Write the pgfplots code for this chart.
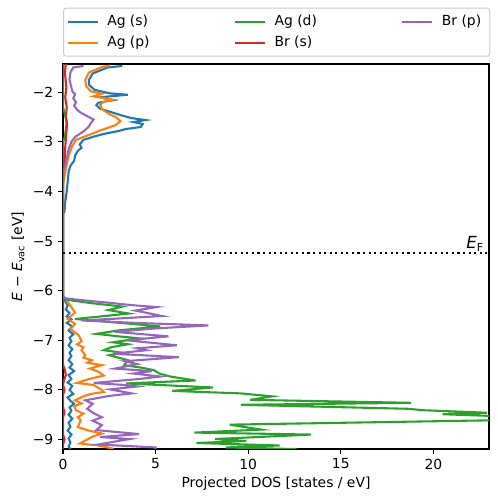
\documentclass[border=0pt]{standalone}
\usepackage{fontspec}
\setmainfont{DejaVu Sans}
\usepackage{pgfplots}
\pgfplotsset{compat=1.18}
\usetikzlibrary{calc}
\definecolor{tabblue}{HTML}{1F77B4}
\definecolor{taborange}{HTML}{FF7F0E}
\definecolor{tabgreen}{HTML}{2CA02C}
\definecolor{tabred}{HTML}{D62728}
\definecolor{tabpurple}{HTML}{9467BD}
\begin{document}
\fontsize{10}{12}\selectfont
\begin{tikzpicture}
\begin{axis}[
  scale only axis,
  width=306.7pt, height=277.2pt,
  xmin=0, xmax=23, ymin=-9.19, ymax=-1.43,
  xtick={0,5,10,15,20}, xticklabels={0,5,10,15,20},
  ytick={-9,-8,-7,-6,-5,-4,-3,-2},
  yticklabels={−9,−8,−7,−6,−5,−4,−3,−2},
  xtick pos=bottom, ytick pos=left,
  tick align=outside,
  major tick length=3.5pt,
  every tick/.style={black, line width=0.8pt},
  axis line style={line width=0.8pt},
  ticklabel style={font=\fontsize{10}{12}\selectfont},
  xlabel={Projected DOS [states / eV]},
  ylabel={\textit{E} − \textit{E}\textsubscript{vac} [eV]},
  label style={font=\fontsize{10}{12}\selectfont},
  xlabel style={at={(axis description cs:0.5,-0.0909)}, anchor=center},
  ylabel style={at={(axis description cs:-0.1056,0.5)}, anchor=center},
  legend columns=3,
  legend image code/.code={\draw[#1, line width=1.5pt, line cap=rect] (0pt,0pt) -- (20pt,0pt);},
  legend style={at={(axis description cs:0,1)}, anchor=south west, yshift=5.3pt,
    draw=black!20, line width=0.7pt, rounded corners=2pt,
    inner xsep=3pt, inner ysep=2.2pt,
    font=\fontsize{10}{12}\selectfont,
    nodes={inner xsep=0pt, inner ysep=2.55pt, text height=7.5pt, text depth=2.5pt},
    /tikz/every odd column/.append style={column sep=7pt},
    /tikz/every even column/.append style={column sep=12pt},
    legend cell align=left},
  clip=true,
]
\addlegendimage{tabblue}\addlegendentry{\makebox[80pt][l]{Ag (s)}}
\addlegendimage{tabgreen}\addlegendentry{\makebox[80pt][l]{Ag (d)}}
\addlegendimage{tabpurple}\addlegendentry{\makebox[31.5pt][l]{Br (p)}}
\addlegendimage{taborange}\addlegendentry{\makebox[80pt][l]{Ag (p)}}
\addlegendimage{tabred}\addlegendentry{\makebox[80pt][l]{Br (s)}}

% Ag (s)
\addplot[tabblue, line width=1.5pt, forget plot] coordinates {
(3.2,-1.47)(2.4,-1.50)(1.6,-1.62)(1.4,-1.75)(1.4,-1.85)(1.7,-1.95)(2.5,-2.02)(3.5,-2.05)(2.0,-2.10)(2.7,-2.16)(1.9,-2.21)(1.8,-2.26)(2.0,-2.33)(2.6,-2.40)(3.2,-2.47)(3.7,-2.52)(4.45,-2.56)(3.8,-2.60)(4.3,-2.64)(4.2,-2.70)(3.4,-2.74)(3.0,-2.78)(2.2,-2.84)(1.6,-2.90)(1.1,-2.96)(0.9,-3.05)(1.0,-3.12)(0.8,-3.18)(0.65,-3.28)(0.6,-3.38)(0.4,-3.48)(0.3,-3.6)(0.25,-3.8)(0.2,-4.0)(0.12,-4.2)(0.08,-4.4)(0,-4.45)(0,-6.15)
(0.1,-6.2)(0.25,-6.3)(0.15,-6.38)(0.35,-6.45)(0.2,-6.52)(0.45,-6.58)(0.2,-6.65)(0.5,-6.72)(0.3,-6.8)(0.55,-6.88)(0.35,-6.95)(0.45,-7.02)(0.3,-7.1)(0.5,-7.18)(0.35,-7.25)(0.45,-7.32)(0.3,-7.4)(0.5,-7.48)(0.35,-7.55)(0.6,-7.62)(0.3,-7.7)(0.45,-7.78)(0.25,-7.85)(0.5,-7.92)(0.35,-8.0)(0.55,-8.08)(0.25,-8.15)(0.4,-8.22)(0.6,-8.28)(0.35,-8.35)(0.45,-8.42)(0.3,-8.5)(0.5,-8.58)(0.3,-8.66)(0.4,-8.74)(0.25,-8.82)(0.45,-8.9)(0.3,-8.98)(0.4,-9.06)(0.3,-9.14)(0.45,-9.22)
};
% Ag (p)
\addplot[taborange, line width=1.5pt, forget plot] coordinates {
(2.55,-1.46)(2.1,-1.49)(1.4,-1.60)(1.2,-1.75)(1.25,-1.88)(1.5,-1.98)(2.1,-2.03)(1.65,-2.08)(2.7,-2.15)(2.2,-2.19)(2.0,-2.25)(2.1,-2.34)(2.5,-2.44)(2.85,-2.50)(3.1,-2.58)(2.85,-2.66)(2.4,-2.72)(2.0,-2.77)(1.6,-2.83)(1.1,-2.90)(0.7,-2.96)(0.5,-3.08)(0.3,-3.28)(0.15,-3.55)(0.05,-3.75)(0,-3.85)(0,-6.12)
(0.1,-6.16)(0.3,-6.25)(0.65,-6.44)(0.25,-6.57)(0.65,-6.67)(0.4,-6.77)(0.85,-6.9)(1.0,-7.02)(0.75,-7.08)(1.1,-7.14)(1.0,-7.20)(1.2,-7.30)(1.1,-7.35)(1.55,-7.40)(1.3,-7.45)(2.1,-7.50)(1.45,-7.57)(1.9,-7.63)(2.2,-7.71)(1.4,-7.78)(0.75,-7.86)(1.65,-7.90)(2.1,-8.0)(2.2,-8.04)(1.5,-8.08)(1.1,-8.13)(0.65,-8.21)(1.0,-8.27)(0.6,-8.33)(0.7,-8.41)(1.1,-8.48)(0.8,-8.55)(0.95,-8.61)(0.8,-8.75)(1.4,-8.82)(2.1,-8.88)(1.6,-8.94)(1.3,-9.0)(0.9,-9.08)(1.9,-9.12)(2.65,-9.18)(2.5,-9.22)
};
% Ag (d)
\addplot[tabgreen, line width=1.5pt, forget plot] coordinates {
(0,-1.40)(0,-2.30)(0.1,-2.45)(0.2,-2.6)(0.15,-2.75)(0.1,-2.9)(0,-3.0)(0,-6.1)
(0.15,-6.18)(1.5,-6.25)(3.2,-6.32)(2.45,-6.39)(3.55,-6.46)(2.0,-6.52)(0.65,-6.57)(2.5,-6.63)(5.25,-6.72)(3.0,-6.80)(1.8,-6.87)(3.0,-6.92)(4.1,-6.96)(2.7,-7.04)(3.5,-7.08)(2.6,-7.14)(2.2,-7.20)(3.2,-7.25)(2.5,-7.30)(3.5,-7.40)(3.3,-7.50)(4.2,-7.55)(4.9,-7.60)(5.2,-7.67)(5.8,-7.73)(7.15,-7.81)(3.4,-7.87)(8.1,-7.95)(5.9,-8.02)(9.6,-8.07)(11.3,-8.13)(10.1,-8.20)(18.8,-8.26)(9.6,-8.30)(18.6,-8.38)(19.5,-8.41)(22.9,-8.46)(20.5,-8.49)(23.5,-8.53)(30,-8.57)(9.0,-8.70)(10.7,-8.80)(7.1,-8.86)(13.4,-8.90)(8.2,-8.99)(9.9,-9.03)(7.2,-9.07)(11.7,-9.12)(8.8,-9.16)(12.3,-9.19)(12,-9.22)
};
% Br (s)
\addplot[tabred, line width=1.5pt, forget plot] coordinates {
(0.15,-1.42)(0.1,-1.6)(0.18,-1.9)(0.12,-2.1)(0.2,-2.3)(0.15,-2.5)(0.22,-2.65)(0.18,-2.8)(0.15,-2.95)(0.12,-3.1)(0.1,-3.3)(0.05,-3.5)(0,-3.6)(0,-7.5)(0.1,-7.6)(0.15,-7.7)(0.05,-7.8)(0,-7.9)(0.08,-8.0)(0,-8.1)(0,-8.35)(0.08,-8.45)(0,-8.55)(0,-8.9)(0.08,-9.0)(0,-9.1)(0,-9.22)
};
% Br (p)
\addplot[tabpurple, line width=1.5pt, forget plot] coordinates {
(1.1,-1.47)(0.55,-1.50)(0.4,-1.6)(0.35,-1.75)(0.45,-1.9)(0.5,-1.98)(0.65,-2.04)(0.55,-2.12)(0.7,-2.2)(0.6,-2.27)(0.75,-2.35)(0.95,-2.41)(1.35,-2.49)(1.65,-2.55)(1.5,-2.62)(1.4,-2.69)(1.1,-2.79)(0.65,-2.9)(0.45,-3.0)(0.3,-3.15)(0.2,-3.35)(0.1,-3.5)(0,-3.6)(0,-6.1)
(0.05,-6.15)(1.0,-6.19)(2.4,-6.24)(3.7,-6.29)(5.05,-6.33)(3.9,-6.40)(5.35,-6.51)(3.0,-6.56)(1.0,-6.60)(4.0,-6.65)(7.85,-6.70)(5.0,-6.76)(2.8,-6.83)(5.7,-6.92)(3.45,-7.00)(4.25,-7.03)(6.15,-7.10)(4.0,-7.16)(4.5,-7.20)(2.7,-7.27)(6.25,-7.34)(3.35,-7.42)(4.0,-7.48)(2.8,-7.57)(4.8,-7.62)(3.8,-7.67)(5.25,-7.73)(4.1,-7.78)(1.65,-7.86)(3.3,-7.90)(4.0,-7.93)(2.55,-7.99)(3.7,-8.07)(2.5,-8.12)(1.2,-8.21)(1.6,-8.28)(1.3,-8.38)(1.65,-8.47)(2.1,-8.55)(1.6,-8.62)(2.1,-8.71)(1.8,-8.81)(4.1,-8.89)(2.0,-8.95)(3.6,-8.99)(1.9,-9.10)(5.0,-9.16)(5.0,-9.22)
};
% Fermi level
\addplot[black, line width=1.5pt, dash pattern=on 1.5pt off 2.5pt, forget plot] coordinates {(0,-5.24)(23,-5.24)};
\node[anchor=base east, inner sep=0pt, font=\fontsize{12}{14}\selectfont] at (axis cs:22.75,-5.15) {\textit{E}\textsubscript{F}};
\end{axis}
\pgfresetboundingbox
\path[use as bounding box] ($(current axis.south west)+(-45.4pt,-38.2pt)$) rectangle ($(current axis.north east)+(6.5pt,46.1pt)$);
\end{tikzpicture}
\end{document}
